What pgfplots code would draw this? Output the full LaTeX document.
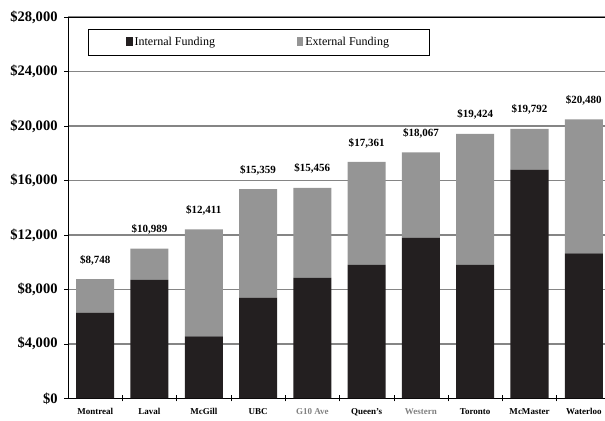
\documentclass[border=0pt]{standalone}
\usepackage{fontspec}
\setmainfont{Liberation Serif}
\usepackage{pgfplots}
\usepackage{pgfplotstable}
\pgfplotsset{compat=1.18}

\definecolor{intcol}{HTML}{231F20}
\definecolor{extcol}{HTML}{959595}
\definecolor{gridcol}{HTML}{858585}

% x, internal, external (= total - internal), label carrier, total label
\pgfplotstableread{
x int ext top total
0 6300 2448 1 8,748
1 8700 2289 1 10,989
2 4550 7861 1 12,411
3 7400 7959 1 15,359
4 8850 6606 1 15,456
5 9800 7561 1 17,361
6 11800 6267 1 18,067
7 9800 9624 1 19,424
8 16800 2992 1 19,792
9 10650 9830 1 20,480
}\funding

\begin{document}
\begin{tikzpicture}
\begin{axis}[
    name=ax,
    scale only axis,
    width=537pt, height=381pt,
    ybar stacked,
    bar width=0.7,
    xmin=-0.5, xmax=9.4,
    ymin=0, ymax=28000,
    ytick={0,4000,...,28000},
    scaled y ticks=false,
    yticklabel={\$\pgfmathprintnumber{\tick}},
    /pgf/number format/.cd, 1000 sep={,}, assume math mode=true,
    /pgfplots/.cd,
    xtick=data,
    xticklabels={Montreal, Laval, McGill, UBC, \textcolor{gray}{G10 Ave}, Queen's, \textcolor{gray}{Western}, Toronto, McMaster, Waterloo},
    minor xtick={0.5,1.5,...,8.5},
    major x tick style={draw=none},
    minor tick length=6pt,
    minor x tick style={black, thin},
    x tick label style={font=\fontsize{9}{10}\selectfont\bfseries, anchor=north, text height=7pt, yshift=-4pt},
    y tick label style={font=\fontsize{14.5}{16}\selectfont\bfseries, xshift=-3pt},
    ytick style={black, thin},
    ytick align=outside,
    xtick align=center,
    major tick length=4pt,
    ymajorgrids,
    major grid style={gridcol, line width=1.3pt},
    axis line style={black, line width=0.8pt},
    axis y line*=left,
    axis x line*=bottom,
    legend columns=2,
    legend style={at={(0.037,0.969)}, anchor=north west, draw=black, line width=0.8pt,
        font=\fontsize{12}{13}\selectfont, inner xsep=38pt, inner ysep=6pt,
        /tikz/every even column/.append style={column sep=80pt}},
    legend image code/.code={\draw[#1, draw=none] (0cm,-0.13cm) rectangle (0.22cm,0.17cm);},
    legend cell align=left,
]
\addplot[fill=intcol, draw=none] table[x=x, y=int] {\funding};
\addlegendentry{Internal Funding}
\addplot[fill=extcol, draw=none] table[x=x, y=ext] {\funding};
\addlegendentry{External Funding}
\addplot[draw=none, fill=none,
    point meta=explicit symbolic,
    nodes near coords={\$\pgfplotspointmeta},
    nodes near coords style={font=\fontsize{11}{12}\selectfont\bfseries, text=black, anchor=center, yshift=19pt},
    ] table[x=x, y=top, meta=total] {\funding};
\draw[black, line width=1.3pt] (axis cs:-0.5,28000) -- (axis cs:9.4,28000);
\end{axis}
\pgfresetboundingbox
\path ([xshift=-68pt,yshift=-22pt]ax.south west) rectangle ([xshift=-0.5pt,yshift=17pt]ax.north east);
\end{tikzpicture}
\end{document}
